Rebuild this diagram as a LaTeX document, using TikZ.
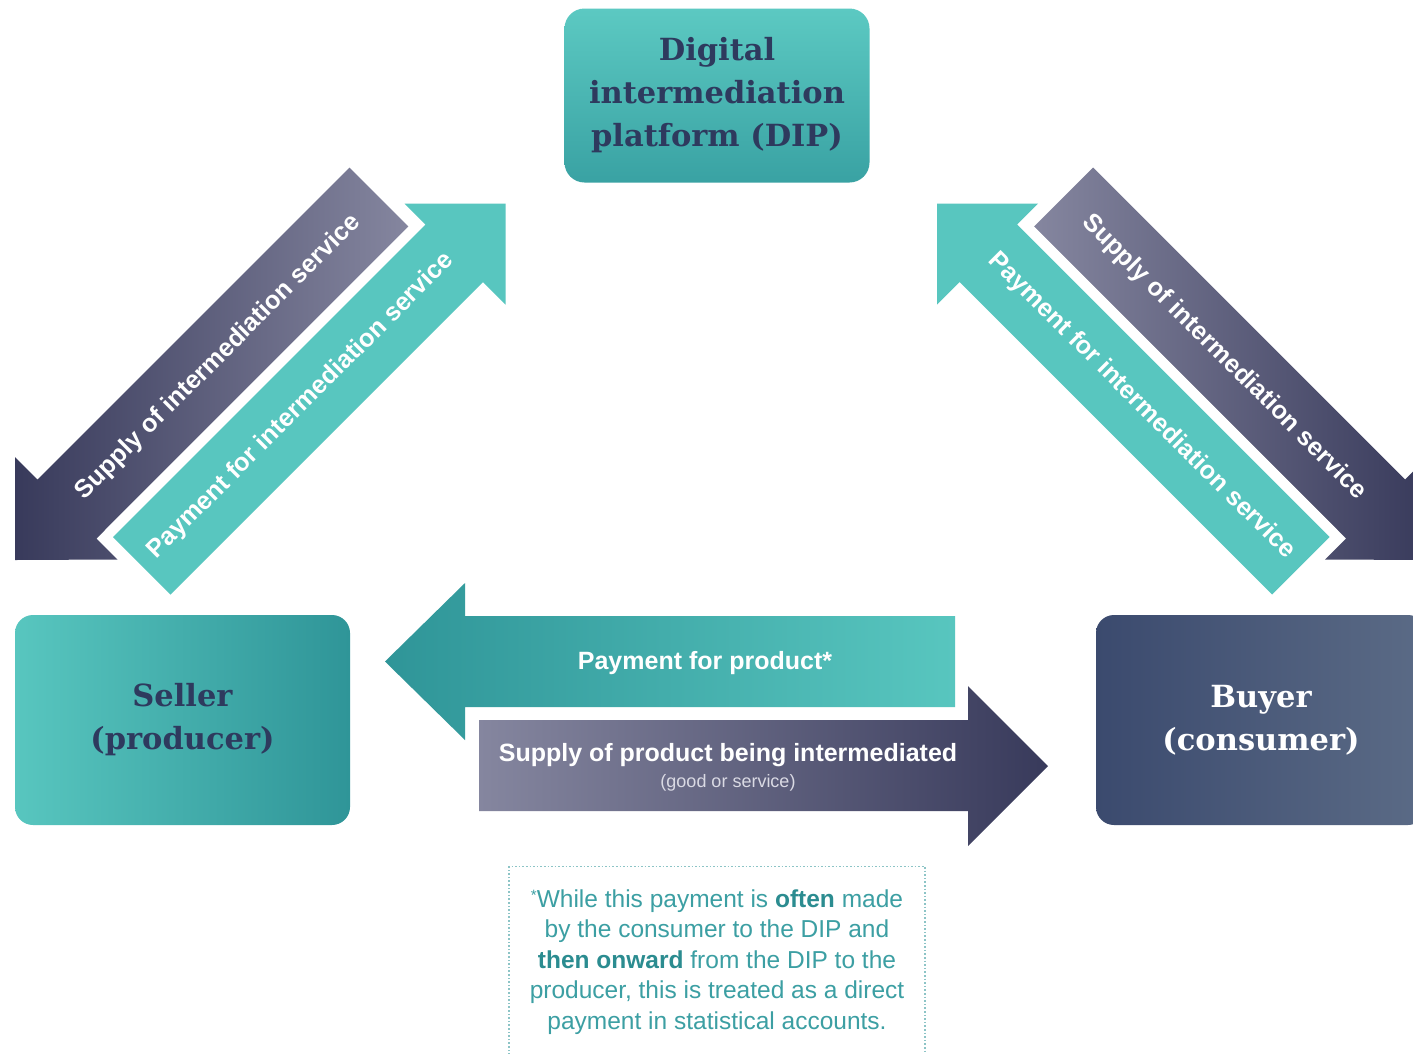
\documentclass[tikz,border=0pt]{standalone}
\usepackage{fontspec}
\setmainfont{Liberation Sans}
\newfontfamily\slabfont{DejaVu Serif}
\definecolor{tealL}{HTML}{58C6BF}
\definecolor{tealD}{HTML}{2F9598}
\definecolor{dipTop}{HTML}{5CC9C2}
\definecolor{dipBot}{HTML}{39A2A3}
\definecolor{navyD}{HTML}{383A5B}
\definecolor{navyL}{HTML}{85869F}
\definecolor{txtnavy}{HTML}{2E3A5E}
\definecolor{buyL}{HTML}{3B4A6E}
\definecolor{buyR}{HTML}{5B6B86}
\definecolor{footc}{HTML}{3C9FA3}
\definecolor{footB}{HTML}{2B8C90}
\definecolor{dotc}{HTML}{8CC4C6}
\definecolor{subtxt}{HTML}{DADAE4}
\begin{document}
\begin{tikzpicture}[x=1pt,y=-1pt,
  boxtxt/.style={font=\slabfont\bfseries\fontsize{30.5}{43}\selectfont, align=center, text=txtnavy},
  arrowtxt/.style={font=\bfseries\fontsize{25}{30}\selectfont, text=white, inner sep=0pt},
  diagtxt/.style={font=\bfseries\fontsize{25.3}{30}\selectfont, text=white, inner sep=0pt},
  gapedge/.style={preaction={draw=white, line width=21pt, line join=round}}]
\useasboundingbox (0,0) rectangle (1413,1053);
\fill[white] (0,0) rectangle (1413,1053);
\clip (0,0) rectangle (1413,1053);

% boxes
\node[boxtxt, rounded corners=20pt, top color=dipTop, bottom color=dipBot,
      minimum width=305pt, minimum height=174pt] (dip) at (717,95.5)
      {Digital\\intermediation\\platform (DIP)};
\node[boxtxt, rounded corners=18pt, left color=tealL, right color=tealD,
      minimum width=335pt, minimum height=210pt] (seller) at (182.5,720)
      {Seller\\(producer)};
\node[boxtxt, text=white, rounded corners=18pt, left color=buyL, right color=buyR,
      minimum width=330pt, minimum height=210pt] (buyer) at (1261,720)
      {Buyer\\(consumer)};

% left diagonal arrows
\path[left color=navyD, right color=navyL]
  (349.5,167.5) -- (408.5,226.5) -- (96.5,538.5) -- (117.5,559.5) -- (15,560)
  -- (15,457) -- (37.5,479.5) -- cycle;
\path[gapedge, fill=tealL]
  (113,537) -- (170.5,594.5) -- (483,282) -- (505.5,304.5) -- (505.5,203.5)
  -- (404.5,203.5) -- (425.5,224.5) -- cycle;
\node[diagtxt, rotate=45] (lsupply) at (218.5,357.5) {Supply of intermediation service};
\node[diagtxt, rotate=45] (lpay) at (301,406) {Payment for intermediation service};

% right diagonal arrows
\path[left color=navyL, right color=navyD]
  (1093,167.5) -- (1034,226.5) -- (1346,538.5) -- (1325,559.5) -- (1427.5,560)
  -- (1427.5,457) -- (1405,479.5) -- cycle;
\path[gapedge, fill=tealL]
  (1329.5,537) -- (1272,594.5) -- (959.5,282) -- (937,304.5) -- (937,203.5)
  -- (1038,203.5) -- (1017,224.5) -- cycle;
\node[diagtxt, rotate=-45] (rsupply) at (1224,357.5) {Supply of intermediation service};
\node[diagtxt, rotate=-45] (rpay) at (1141.5,406) {Payment for intermediation service};

% horizontal arrows
\path[left color=tealD, right color=tealL]
  (955,616) -- (465,616) -- (465,583) -- (385,661.5) -- (465,740) -- (465,707)
  -- (955,707) -- cycle;
\node[arrowtxt] (hpay) at (705,663) {Payment for product*};
\path[left color=navyL, right color=navyD]
  (479,720) -- (968,720) -- (968,686) -- (1048,766) -- (968,846) -- (968,811)
  -- (479,811) -- cycle;
\node[arrowtxt] (hsupply) at (728,755) {Supply of product being intermediated};
\node[font=\fontsize{18}{20}\selectfont, text=subtxt, inner sep=0pt] (hsub) at (728,783) {(good or service)};

% footnote
\draw[dotc, dotted, line width=1.6pt] (509,1080) -- (509,866.5) -- (925,866.5) -- (925,1080);
\node[font=\fontsize{24.5}{30.5}\selectfont, text=footc, align=center] (note) at (717,962)
  {\raisebox{0.3em}{\fontsize{15}{15}\selectfont *}While this payment is \textbf{\color{footB}often} made\\
   by the consumer to the DIP and\\
   \textbf{\color{footB}then onward} from the DIP to the\\
   producer, this is treated as a direct\\
   payment in statistical accounts.};
\end{tikzpicture}
\end{document}
